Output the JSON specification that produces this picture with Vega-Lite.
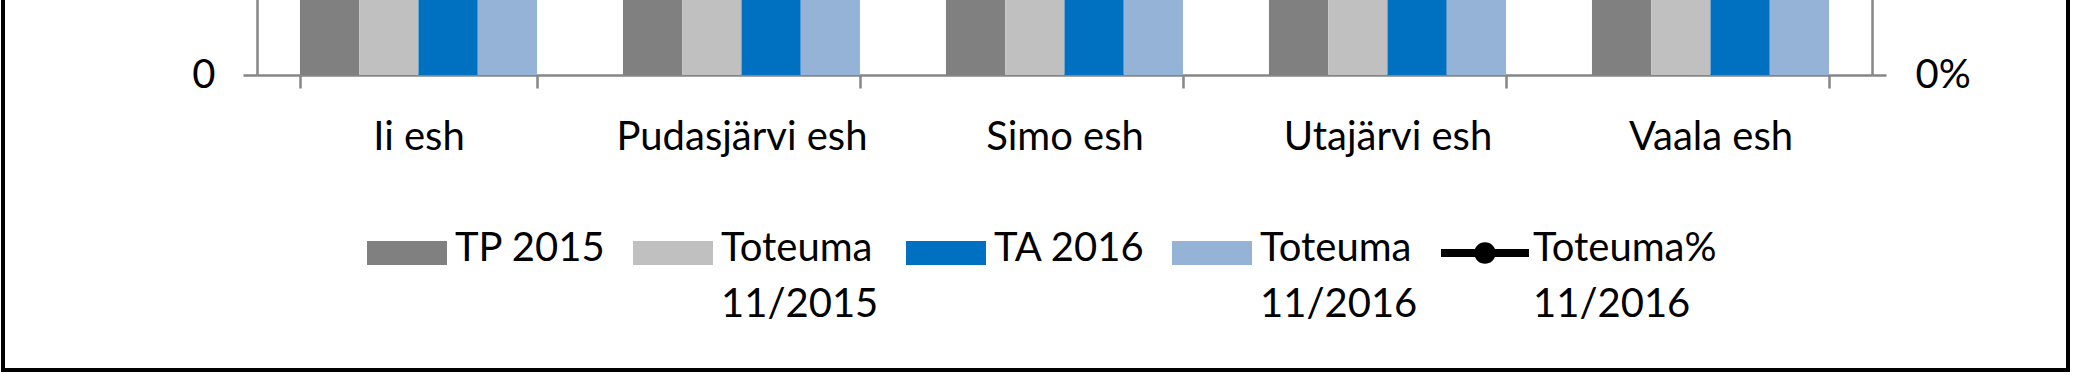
{
  "$schema": "https://vega.github.io/schema/vega-lite/v6.json",
  "autosize": {"type": "none"},
  "width": 2065,
  "height": 380,
  "padding": {"left": 3, "top": -10, "right": 5, "bottom": 5},
  "background": "#ffffff",
  "config": {
    "view": {"stroke": "#000000", "strokeWidth": 4},
    "font": "Lato",
    "style": {"guide-label": {"lineHeight": 56}}
  },
  "datasets": {
    "pylvaat": [
      {"kunta": "Ii esh", "sarja": "TP 2015", "arvo": 14200000},
      {"kunta": "Ii esh", "sarja": "Toteuma 11/2015", "arvo": 12900000},
      {"kunta": "Ii esh", "sarja": "TA 2016", "arvo": 14600000},
      {"kunta": "Ii esh", "sarja": "Toteuma 11/2016", "arvo": 13500000},
      {"kunta": "Pudasjärvi esh", "sarja": "TP 2015", "arvo": 12100000},
      {"kunta": "Pudasjärvi esh", "sarja": "Toteuma 11/2015", "arvo": 11000000},
      {"kunta": "Pudasjärvi esh", "sarja": "TA 2016", "arvo": 12400000},
      {"kunta": "Pudasjärvi esh", "sarja": "Toteuma 11/2016", "arvo": 11600000},
      {"kunta": "Simo esh", "sarja": "TP 2015", "arvo": 4600000},
      {"kunta": "Simo esh", "sarja": "Toteuma 11/2015", "arvo": 4200000},
      {"kunta": "Simo esh", "sarja": "TA 2016", "arvo": 4800000},
      {"kunta": "Simo esh", "sarja": "Toteuma 11/2016", "arvo": 4500000},
      {"kunta": "Utajärvi esh", "sarja": "TP 2015", "arvo": 4500000},
      {"kunta": "Utajärvi esh", "sarja": "Toteuma 11/2015", "arvo": 4100000},
      {"kunta": "Utajärvi esh", "sarja": "TA 2016", "arvo": 4700000},
      {"kunta": "Utajärvi esh", "sarja": "Toteuma 11/2016", "arvo": 4300000},
      {"kunta": "Vaala esh", "sarja": "TP 2015", "arvo": 4300000},
      {"kunta": "Vaala esh", "sarja": "Toteuma 11/2015", "arvo": 3900000},
      {"kunta": "Vaala esh", "sarja": "TA 2016", "arvo": 4400000},
      {"kunta": "Vaala esh", "sarja": "Toteuma 11/2016", "arvo": 4100000}
    ],
    "prosentit": [
      {"kunta": "Ii esh", "pros": 0.92},
      {"kunta": "Pudasjärvi esh", "pros": 0.94},
      {"kunta": "Simo esh", "pros": 0.93},
      {"kunta": "Utajärvi esh", "pros": 0.91},
      {"kunta": "Vaala esh", "pros": 0.94}
    ]
  },
  "resolve": {"scale": {"y": "independent"}},
  "layer": [
    {
      "data": {"name": "pylvaat"},
      "mark": {"type": "bar", "clip": true},
      "encoding": {
        "x": {
          "field": "kunta",
          "type": "nominal",
          "sort": ["Ii esh", "Pudasjärvi esh", "Simo esh", "Utajärvi esh", "Vaala esh"],
          "scale": {"range": [254, 1869], "paddingInner": 0.266, "paddingOuter": 0.133},
          "axis": {
            "title": null,
            "orient": "bottom",
            "offset": -295,
            "labelAngle": 0,
            "labelFont": "Lato",
            "labelFontSize": 40,
            "labelColor": "#000000",
            "labelBaseline": "alphabetic",
            "labelPadding": 61,
            "labelLimit": 0,
            "tickBand": "extent",
            "tickSize": 13,
            "tickColor": "#868686",
            "tickWidth": 2.5,
            "domainColor": "#868686",
            "domainWidth": 2.5,
            "grid": false
          }
        },
        "xOffset": {
          "field": "sarja",
          "type": "nominal",
          "sort": ["TP 2015", "Toteuma 11/2015", "TA 2016", "Toteuma 11/2016"],
          "scale": {"paddingInner": 0, "paddingOuter": 0}
        },
        "y": {
          "field": "arvo",
          "type": "quantitative",
          "scale": {"domain": [0, 1000000], "range": [85, 0], "nice": false, "zero": true},
          "axis": {
            "title": null,
            "orient": "left",
            "offset": -254,
            "values": [0],
            "format": "d",
            "labelFont": "Lato",
            "labelFontSize": 40,
            "labelColor": "#000000",
            "labelPadding": 28,
            "tickSize": 14,
            "tickColor": "#868686",
            "tickWidth": 2.5,
            "domainColor": "#868686",
            "domainWidth": 2.5,
            "grid": false
          }
        },
        "color": {
          "field": "sarja",
          "type": "nominal",
          "scale": {
            "domain": ["TP 2015", "Toteuma 11/2015", "TA 2016", "Toteuma 11/2016", "Toteuma% 11/2016"],
            "range": ["#808080", "#c0c0c0", "#0070c0", "#95b3d7", "#000000"]
          },
          "legend": {
            "title": null,
            "orient": "none",
            "direction": "horizontal",
            "legendX": 360,
            "legendY": 219,
            "padding": 0,
            "symbolType": "M-0.909,-0.273H0.909V0.273H-0.909Z",
            "symbolSize": 7744,
            "symbolStrokeWidth": 0,
            "labelOffset": 4,
            "columnPadding": 23,
            "labelFont": "Lato",
            "labelFontSize": 40,
            "labelColor": "#000000",
            "labelLimit": 0,
            "labelBaseline": "alphabetic",
            "labelExpr": "datum.label === 'TP 2015' || datum.label === 'TA 2016' ? [datum.label, ' '] : split(datum.label, ' ')",
            "encode": {
              "labels": {
                "update": {"dy": {"value": 8}}
              },
              "symbols": {
                "update": {
                  "shape": {"signal": "datum.value === 'Toteuma% 11/2016' ? 'M-1,-0.09H1V0.09H-1Z M-0.245,0 A0.245,0.245 0 1,1 0.245,0 A0.245,0.245 0 1,1 -0.245,0 Z' : 'M-0.909,-0.273H0.909V0.273H-0.909Z'"}
                }
              }
            }
          }
        }
      }
    },
    {
      "data": {"name": "prosentit"},
      "mark": {"type": "line", "clip": true, "color": "#000000", "strokeWidth": 7, "point": {"filled": true, "size": 350, "color": "#000000", "clip": true}},
      "encoding": {
        "x": {"field": "kunta", "type": "nominal", "sort": ["Ii esh", "Pudasjärvi esh", "Simo esh", "Utajärvi esh", "Vaala esh"]},
        "y": {
          "field": "pros",
          "type": "quantitative",
          "scale": {"domain": [0, 0.1], "range": [85, 0], "nice": false, "zero": true},
          "axis": {
            "title": null,
            "orient": "right",
            "offset": -196,
            "values": [0],
            "format": ".0%",
            "labelFont": "Lato",
            "labelFontSize": 40,
            "labelColor": "#000000",
            "labelPadding": 29,
            "tickSize": 14,
            "tickColor": "#868686",
            "tickWidth": 2.5,
            "domainColor": "#868686",
            "domainWidth": 2.5,
            "grid": false
          }
        }
      }
    }
  ]
}
